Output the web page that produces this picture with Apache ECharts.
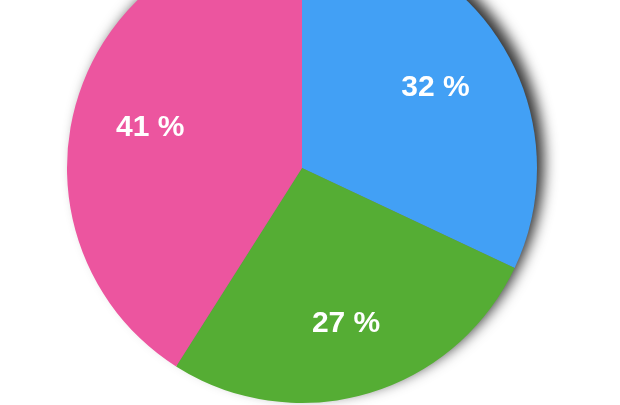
<!DOCTYPE html>
<html>
<head>
<meta charset="utf-8">
<script src="https://cdn.jsdelivr.net/npm/echarts@6/dist/echarts.min.js"></script>
<style>html,body{margin:0;padding:0;background:#fff}#c{width:620px;height:405px}</style>
</head>
<body>
<div id="c"></div>
<script>
const categories = ['A', 'B', 'C'];
const values = [32, 27, 41];
const colors = ['#42a0f5', '#55ad34', '#ec559f'];

const data = categories.map((n, i) => ({ name: n, value: values[i], itemStyle: { color: colors[i] } }));
const total = values.reduce((a, b) => a + b, 0);
const chart = echarts.init(document.getElementById('c'), null, { renderer: 'canvas' });
chart.setOption({
  animation: false,
  series: [
    {
      type: 'pie',
      z: 1,
      center: [302, 168],
      radius: 234,
      silent: true,
      label: { show: false },
      labelLine: { show: false },
      itemStyle: { color: '#777', shadowColor: 'rgba(0,0,0,0.8)', shadowBlur: 14, shadowOffsetX: 8, shadowOffsetY: -6 },
      emphasis: { disabled: true },
      data: [{ name: 'shadow', value: total }]
    },
    {
      type: 'pie',
      z: 2,
      center: [302, 168],
      radius: 235,
      startAngle: 90,
      clockwise: true,
      label: { show: false },
      labelLine: { show: false },
      emphasis: { disabled: true },
      data: data
    },
    {
      type: 'pie',
      z: 3,
      center: [302, 168],
      radius: [75, 235],
      startAngle: 90,
      clockwise: true,
      silent: true,
      itemStyle: { color: 'transparent' },
      label: {
        show: true, position: 'inside', color: '#fff',
        fontFamily: 'Liberation Sans, Arial, sans-serif', fontWeight: 'bold', fontSize: 30,
        formatter: p => p.value + ' %'
      },
      labelLayout: { dy: 4 },
      labelLine: { show: false },
      emphasis: { disabled: true },
      data: categories.map((n, i) => ({ name: n, value: values[i] }))
    }
  ]
});
</script>
</body>
</html>
